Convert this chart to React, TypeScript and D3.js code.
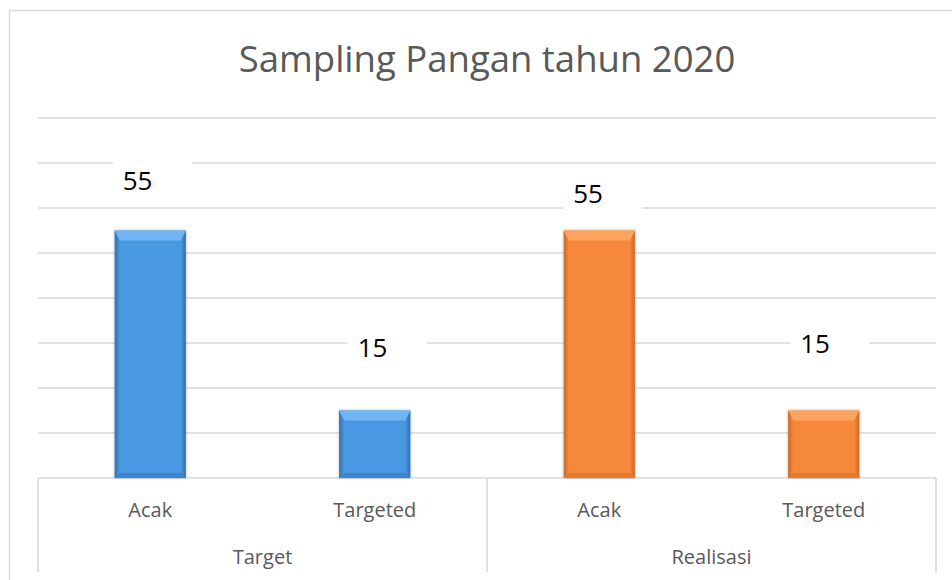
import React from "react";
import * as d3 from "d3";

const groups = ["Target", "Realisasi"];
const categories = ["Acak", "Targeted"];
const targetValues = [55, 15];
const realisasiValues = [55, 15];
const yTicks = [10, 20, 30, 40, 50, 60, 70, 80];
const title = "Sampling Pangan tahun 2020";

// layout nudges for the hand-placed data labels (dx from bar centre, dy baseline above bar top)
const labelNudge = [
  [-12.75, -41],
  [-2.25, -53.5],
  [-11.25, -28],
  [-8.75, -57.5],
];

const W = 952;
const H = 580;
const plotLeft = 38;
const plotRight = 936;
const plotTop = 118;
const plotBottom = 478;

const palettes = [
  { main: "#4898e2", light: "#6fb6f3", dark: "#2f70ae", bottom: "#3d86cd" },
  { main: "#f6883a", light: "#fba35f", dark: "#c9692a", bottom: "#e57a2f" },
];

const FONT = "'Open Sans', 'Noto Sans', sans-serif";

export default function App() {
  const y = d3.scaleLinear().domain([0, 80]).range([plotBottom, plotTop]);
  const xGroup = d3.scaleBand<string>().domain(groups).range([plotLeft, plotRight]).padding(0);
  const xCat = d3
    .scaleBand<string>()
    .domain(categories)
    .range([0, xGroup.bandwidth()])
    .paddingInner(0.684)
    .paddingOuter(0.342);

  const seriesValues = [targetValues, realisasiValues];
  const bars: { g: number; c: number; x0: number; x1: number; yTop: number; v: number }[] = [];
  groups.forEach((g, gi) => {
    categories.forEach((c, ci) => {
      const x0 = (xGroup(g) as number) + (xCat(c) as number);
      const v = seriesValues[gi][ci];
      bars.push({ g: gi, c: ci, x0, x1: x0 + xCat.bandwidth(), yTop: y(v), v });
    });
  });

  const sepXs = [plotLeft, ...groups.map((g) => (xGroup(g) as number) + xGroup.bandwidth())];

  return (
    <svg
      width={W}
      height={H}
      style={{ position: "absolute", left: 0, top: 0, background: "#fff" }}
      fontFamily={FONT}
    >
      <defs>
        <filter id="shadow" x="-20%" y="-10%" width="140%" height="120%">
          <feGaussianBlur in="SourceAlpha" stdDeviation="1.5" />
          <feComponentTransfer>
            <feFuncA type="linear" slope="0.3" />
          </feComponentTransfer>
          <feMerge>
            <feMergeNode />
            <feMergeNode in="SourceGraphic" />
          </feMerge>
        </filter>
        {palettes.map((p, i) => (
          <linearGradient key={i} id={`side${i}`} x1="0" x2="1" y1="0" y2="0">
            <stop offset="0" stopColor={p.dark} />
            <stop offset="1" stopColor={p.main} />
          </linearGradient>
        ))}
        {palettes.map((p, i) => (
          <linearGradient key={i} id={`sideR${i}`} x1="0" x2="1" y1="0" y2="0">
            <stop offset="0" stopColor={p.main} />
            <stop offset="1" stopColor={p.dark} />
          </linearGradient>
        ))}
      </defs>

      {/* chart border */}
      <rect x={9.5} y={10.5} width={980} height={620} fill="#fff" stroke="#d9d9d9" strokeWidth={1.5} />

      {/* title */}
      <text x={(plotLeft + plotRight) / 2} y={72} textAnchor="middle" fontSize={36.5} fill="#595959">
        {title}
      </text>

      {/* gridlines */}
      {yTicks.map((t) => (
        <line key={t} x1={plotLeft} x2={plotRight} y1={y(t)} y2={y(t)} stroke="#d9d9d9" strokeWidth={1.3} />
      ))}

      {/* axis box */}
      <line x1={plotLeft} x2={plotRight} y1={plotBottom} y2={plotBottom} stroke="#d9d9d9" strokeWidth={1.6} />
      {sepXs.map((sx, i) => (
        <line key={i} x1={sx} x2={sx} y1={plotBottom} y2={572} stroke="#d9d9d9" strokeWidth={1.6} />
      ))}

      {/* bars */}
      {bars.map((b, i) => {
        const p = palettes[b.g];
        const yb = plotBottom;
        const s = 5;
        const t = 10;
        const bb = 5;
        return (
          <g key={i} filter="url(#shadow)">
            <rect x={b.x0} y={b.yTop} width={b.x1 - b.x0} height={yb - b.yTop} fill={p.main} />
            <polygon
              points={`${b.x0},${b.yTop} ${b.x0 + s},${b.yTop + t} ${b.x0 + s},${yb - bb} ${b.x0},${yb}`}
              fill={`url(#side${b.g})`}
            />
            <polygon
              points={`${b.x1},${b.yTop} ${b.x1 - s},${b.yTop + t} ${b.x1 - s},${yb - bb} ${b.x1},${yb}`}
              fill={`url(#sideR${b.g})`}
            />
            <polygon
              points={`${b.x0},${b.yTop} ${b.x1},${b.yTop} ${b.x1 - s},${b.yTop + t} ${b.x0 + s},${b.yTop + t}`}
              fill={p.light}
            />
            <polygon
              points={`${b.x0},${yb} ${b.x1},${yb} ${b.x1 - s},${yb - bb} ${b.x0 + s},${yb - bb}`}
              fill={p.bottom}
            />
          </g>
        );
      })}

      {/* data labels */}
      {bars.map((b, i) => {
        const cx = (b.x0 + b.x1) / 2 + labelNudge[i][0];
        const base = b.yTop + labelNudge[i][1];
        return (
          <g key={i}>
            <rect x={cx - 24.5} y={base - 28} width={79} height={45} fill="#fff" />
            <text x={cx} y={base} textAnchor="middle" fontSize={26} fill="#000">
              {b.v}
            </text>
          </g>
        );
      })}

      {/* category labels */}
      {bars.map((b, i) => (
        <text
          key={i}
          x={(b.x0 + b.x1) / 2}
          y={517}
          textAnchor="middle"
          fontSize={20}
          fill="#595959"
        >
          {categories[b.c]}
        </text>
      ))}
      {groups.map((g) => (
        <text
          key={g}
          x={(xGroup(g) as number) + xGroup.bandwidth() / 2}
          y={564}
          textAnchor="middle"
          fontSize={20}
          fill="#595959"
        >
          {g}
        </text>
      ))}
    </svg>
  );
}
